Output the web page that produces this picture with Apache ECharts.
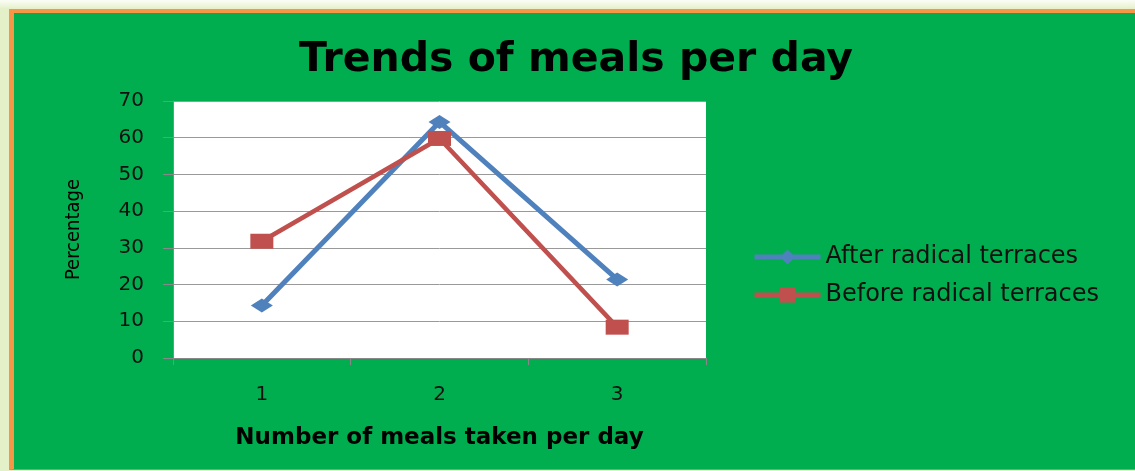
<!DOCTYPE html>
<html>
<head>
<meta charset="utf-8">
<script src="https://cdn.jsdelivr.net/npm/echarts@6/dist/echarts.min.js"></script>
<style>
  html, body { margin: 0; padding: 0; width: 1135px; height: 471px; overflow: hidden;
    background: linear-gradient(to bottom, #fbfdf6 0px, #e4f0c8 9px, #e4f0c8 100%); }
  #frame { position: absolute; left: 9px; top: 9px; width: 1126px; height: 461px;
    border-left: 5px solid #f79646; border-top: 4px solid #f79646; box-sizing: border-box;
    background: #00ae4f; border-bottom: 1px solid #62b84a; }
  #chart { position: absolute; left: 0; top: 0; width: 1135px; height: 471px; }
</style>
</head>
<body>
<div id="frame"></div>
<div id="chart"></div>
<script>
const titleText = 'Trends of meals per day';
const xAxisTitle = 'Number of meals taken per day';
const yAxisTitle = 'Percentage';
const categories = ['1', '2', '3'];
const seriesNames = ['After radical terraces', 'Before radical terraces'];
const afterValues = [14.3, 64.3, 21.4];
const beforeValues = [31.8, 59.8, 8.4];
const yMin = 0, yMax = 70, yStep = 10;

const chart = echarts.init(document.getElementById('chart'), null, { renderer: 'canvas' });
chart.setOption({
  animation: false,
  backgroundColor: 'transparent',
  title: {
    text: titleText,
    left: 299, top: 40, padding: 0,
    textStyle: { fontFamily: 'DejaVu Sans', fontWeight: 'bold', fontSize: 41, color: '#000' }
  },
  legend: {
    orient: 'vertical',
    left: 752, top: 245, padding: 0,
    itemWidth: 66, itemHeight: 19, itemGap: 14,
    lineStyle: { width: 5 },
    textStyle: { fontFamily: 'DejaVu Sans', fontSize: 24, color: '#111' },
    data: seriesNames
  },
  grid: {
    left: 173, top: 101, width: 533, height: 257,
    show: true, backgroundColor: '#ffffff', borderWidth: 0
  },
  xAxis: {
    type: 'category',
    data: categories,
    name: xAxisTitle,
    nameLocation: 'middle',
    nameGap: 69,
    nameTextStyle: { fontFamily: 'DejaVu Sans', fontWeight: 'bold', fontSize: 23, color: '#000' },
    axisLine: { lineStyle: { color: '#888', width: 1 } },
    axisTick: { show: true, length: 7, lineStyle: { color: '#888' } },
    axisLabel: { margin: 27, fontFamily: 'DejaVu Sans', fontSize: 20, color: '#111' }
  },
  yAxis: {
    type: 'value',
    min: yMin, max: yMax, interval: yStep,
    name: yAxisTitle,
    nameLocation: 'middle',
    nameGap: 89,
    nameTextStyle: { fontFamily: 'DejaVu Sans Condensed', fontSize: 20, color: '#000' },
    axisLine: { show: true, lineStyle: { color: '#888', width: 1 } },
    axisTick: { show: true, length: 10, lineStyle: { color: '#888' } },
    axisLabel: { margin: 29, fontFamily: 'DejaVu Sans', fontSize: 20, color: '#111' },
    splitLine: { show: true, lineStyle: { color: '#999', width: 1 } }
  },
  series: [
    {
      name: seriesNames[0],
      type: 'line',
      data: afterValues,
      symbol: 'diamond',
      symbolSize: [22, 14],
      lineStyle: { color: '#4f81bd', width: 5 },
      itemStyle: { color: '#4f81bd' },
      emphasis: { disabled: true }
    },
    {
      name: seriesNames[1],
      type: 'line',
      data: beforeValues,
      symbol: 'rect',
      symbolSize: [23, 15],
      lineStyle: { color: '#c0504d', width: 4.5 },
      itemStyle: { color: '#c0504d' },
      emphasis: { disabled: true }
    }
  ]
});
</script>
</body>
</html>
